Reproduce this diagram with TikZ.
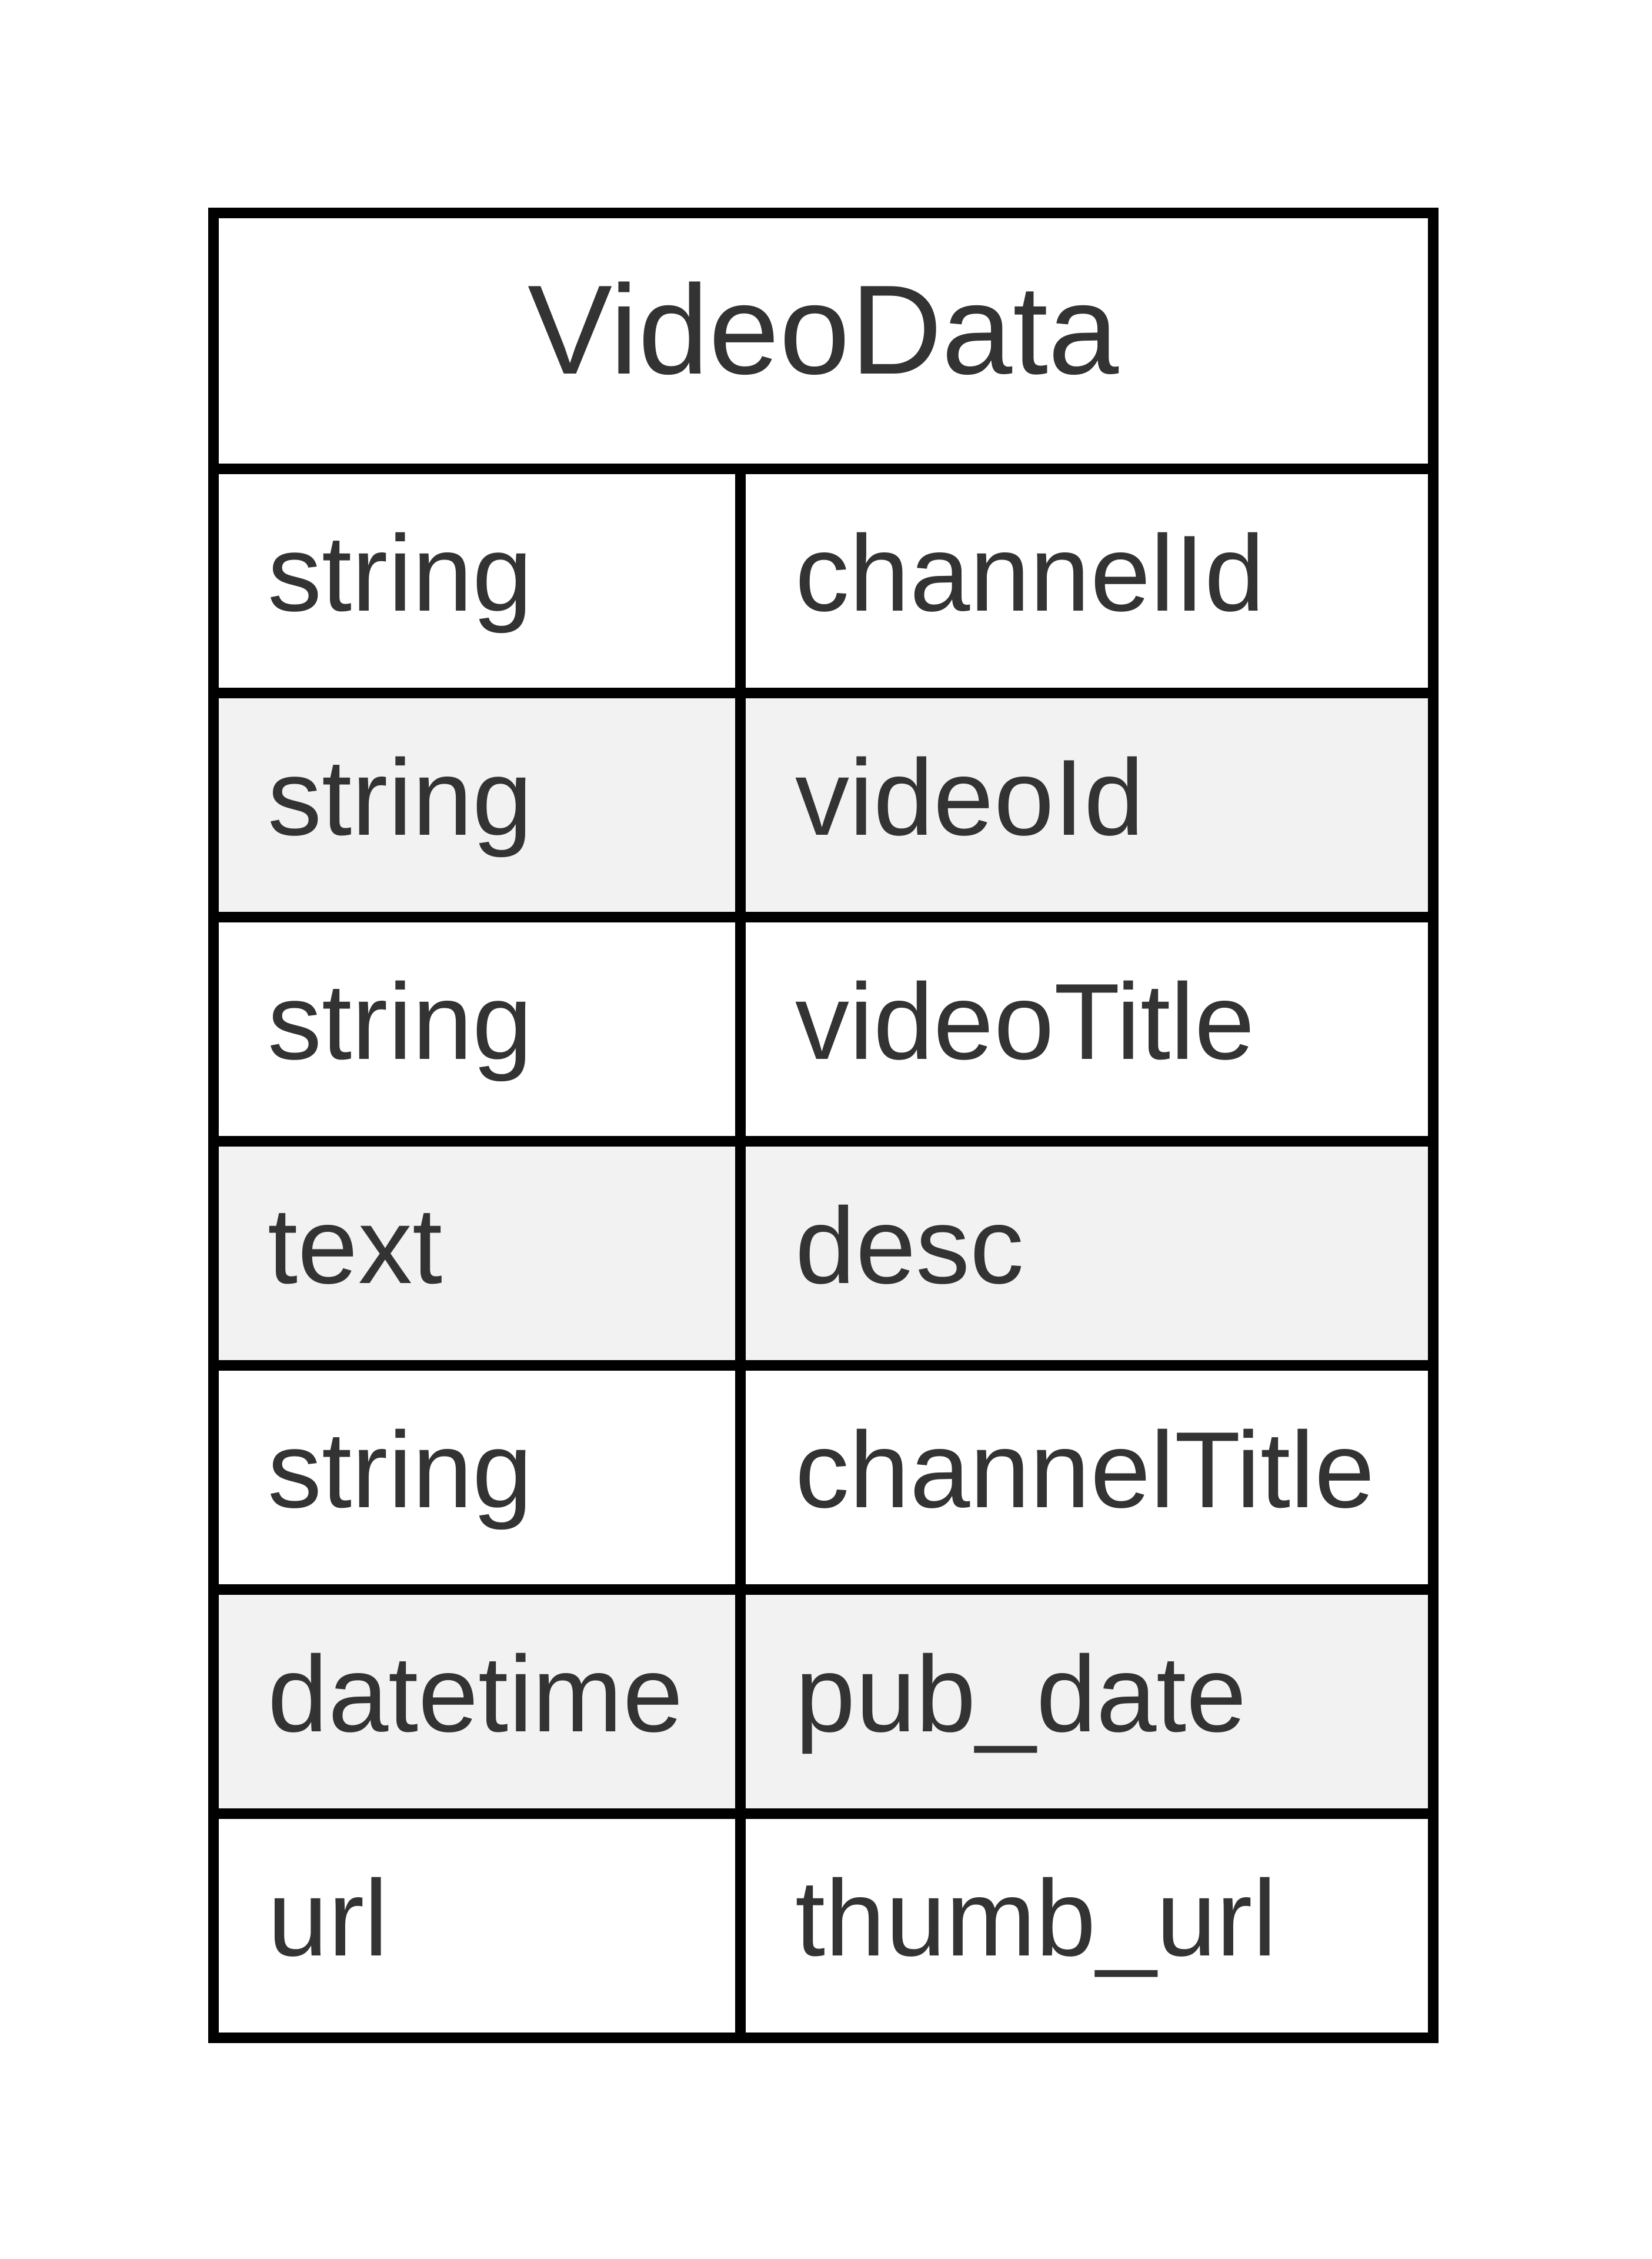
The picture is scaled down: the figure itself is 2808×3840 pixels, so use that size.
\documentclass[tikz,border=0pt]{standalone}
\usepackage{fontspec}
\setmainfont{Liberation Sans}
\usepackage{tikz}
\usetikzlibrary{positioning, calc, backgrounds}
\definecolor{txtgray}{HTML}{333333}
\definecolor{rowgray}{HTML}{F2F2F2}
\tikzset{cellline/.style={line width=4.5pt, black},
  celltext/.style={anchor=base west, text=txtgray, inner sep=0pt, font=\fontsize{46}{55}\selectfont},
  titletext/.style={anchor=base, text=txtgray, inner sep=0pt, font=\fontsize{54}{64}\selectfont}}

\begin{document}
\begin{tikzpicture}[x=0.25pt, y=-0.25pt]
      \useasboundingbox (0,0) rectangle (2808,3840);
      \foreach \r in {2,4,6}
        \fill[rowgray] (363,{797+381*(\r-1)}) rectangle (2437,{797+381*\r});
      \node[titletext] (title) at (1400,636) {VideoData};
      \foreach \type/\field [count=\i, evaluate=\i as \ry using 797+381*(\i-1)+241] in
        {string/channelId, string/videoId, string/videoTitle, text/desc,
         string/channelTitle, datetime/pub\_date, url/thumb\_url} {
        \node[celltext] (type\i) at (455,\ry) {\type};
        \node[celltext] (field\i) at (1352,\ry) {\field};
      }
      % grid
      \draw[cellline] (363,362) rectangle (2437,3464);
      \draw[cellline] (1259,797) -- (1259,3464);
      \foreach \i in {0,...,6}
        \draw[cellline] (363,{797+381*\i}) -- (2437,{797+381*\i});
    \end{tikzpicture}
\end{document}
